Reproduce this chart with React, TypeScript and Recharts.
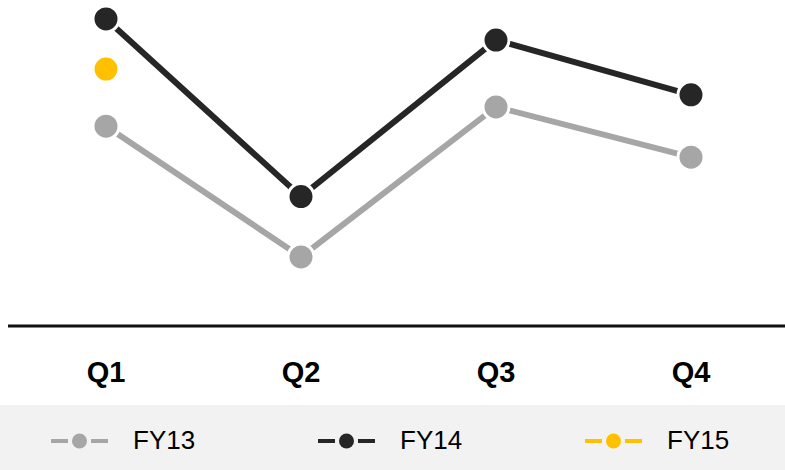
import { ComposedChart, Line, XAxis, YAxis } from "recharts";

const quarters = ["Q1", "Q2", "Q3", "Q4"];
const fy13 = [61.3, 21.2, 67.2, 51.8];
const fy14 = [94.2, 39.7, 87.7, 70.9];
const fy15: (number | null)[] = [78.8, null, null, null];

const series = [
  { key: "FY13", values: fy13, color: "#a6a6a6" },
  { key: "FY14", values: fy14, color: "#262626" },
  { key: "FY15", values: fy15, color: "#ffc000" },
];

const data = quarters.map((q, i) => {
  const row: Record<string, string | number | null> = { name: q };
  series.forEach((s) => {
    row[s.key] = s.values[i];
  });
  return row;
});

const font = "'Liberation Sans', Arial, sans-serif";

const LegendIcon = ({ color }: { color: string }) => (
  <svg width={57} height={16} style={{ flexShrink: 0 }}>
    <line x1={0} y1={8} x2={17} y2={8} stroke={color} strokeWidth={4} />
    <circle cx={28.5} cy={8} r={7.5} fill={color} />
    <line x1={40} y1={8} x2={57} y2={8} stroke={color} strokeWidth={4} />
  </svg>
);

export default function App() {
  return (
    <div
      style={{
        position: "absolute",
        left: 0,
        top: 0,
        width: 785,
        height: 470,
        overflow: "hidden",
        background: "#fff",
        fontFamily: font,
      }}
    >
      <ComposedChart
        width={789}
        height={405}
        data={data}
        margin={{ top: 0, left: 8, right: 0, bottom: 0 }}
      >
        <XAxis
          dataKey="name"
          height={79}
          padding={{ left: 98, right: 98 }}
          axisLine={{ stroke: "#111", strokeWidth: 3 }}
          tickLine={false}
          tickSize={0}
          tickMargin={35}
          tick={{ fontSize: 29, fontWeight: "bold", fill: "#000", fontFamily: font }}
        />
        <YAxis hide domain={[0, 100]} />
        {series.map((s) => (
          <Line
            key={s.key}
            dataKey={s.key}
            stroke={s.color}
            strokeWidth={6}
            isAnimationActive={false}
            dot={{ r: 13, fill: s.color, stroke: "#fff", strokeWidth: 3 }}
            activeDot={false}
          />
        ))}
      </ComposedChart>
      <div
        style={{
          position: "absolute",
          left: 0,
          top: 405,
          width: 785,
          height: 65,
          background: "#f2f2f2",
          display: "flex",
          alignItems: "center",
          paddingLeft: 51,
          paddingTop: 6,
          boxSizing: "border-box",
        }}
      >
        {series.map((s) => (
          <div
            key={s.key}
            style={{ width: 267, flexShrink: 0, display: "flex", alignItems: "center" }}
          >
            <LegendIcon color={s.color} />
            <span style={{ marginLeft: 25, fontSize: 26, color: "#000" }}>
              {s.key}
            </span>
          </div>
        ))}
      </div>
    </div>
  );
}
